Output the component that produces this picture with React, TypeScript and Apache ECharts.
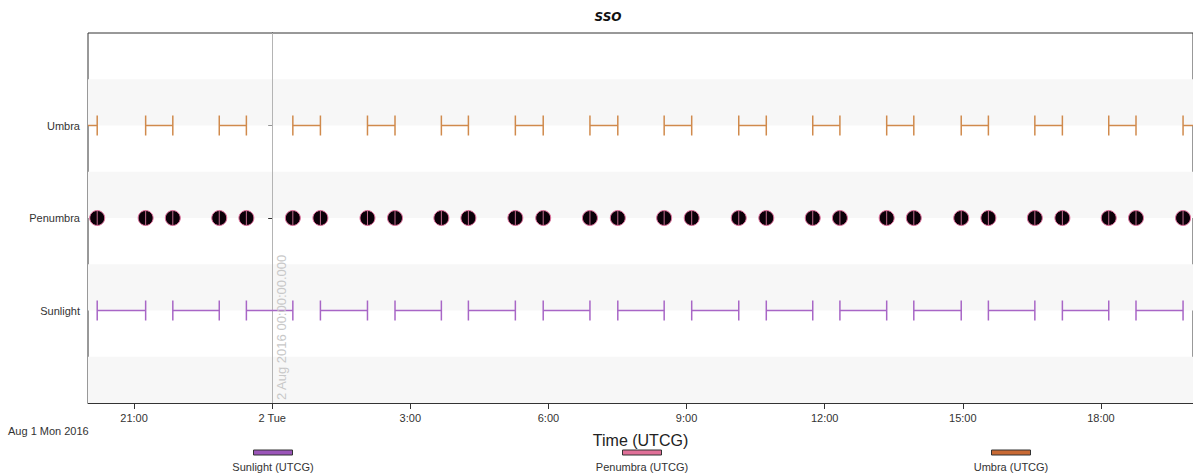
import React, { useEffect, useRef } from "react";
import * as echarts from "echarts";

// Times in hours relative to 2 Aug 2016 00:00 UTCG
const umbraStart = [-4.39, -2.748, -1.149, 0.449, 2.07, 3.675, 5.282, 6.902, 8.514, 10.134, 11.741, 13.347, 14.966, 16.565, 18.17, 19.784];
const umbraEnd = [-3.8, -2.158, -0.56, 1.048, 2.668, 4.262, 5.887, 7.507, 9.112, 10.732, 12.331, 13.936, 15.556, 17.163, 18.762, 20.38];
const sunStart = [-3.8, -2.158, -0.56, 1.048, 2.668, 4.262, 5.887, 7.507, 9.112, 10.732, 12.331, 13.936, 15.556, 17.163, 18.762];
const sunEnd = [-2.748, -1.149, 0.449, 2.07, 3.675, 5.282, 6.902, 8.514, 10.134, 11.741, 13.347, 14.966, 16.565, 18.17, 19.784];
const penumbraTimes = [-3.8, -2.748, -2.158, -1.149, -0.56, 0.449, 1.048, 2.07, 2.668, 3.675, 4.262, 5.282, 5.887, 6.902, 7.507, 8.514, 9.112, 10.134, 10.732, 11.741, 12.331, 13.347, 13.936, 14.966, 15.556, 16.565, 17.163, 18.17, 18.762, 19.784];

const rowNames = ["", "Sunlight", "Penumbra", "Umbra", ""];
const rowSun = 1, rowPen = 2, rowUmb = 3;
const xMajorTicks = [-3, 0, 3, 6, 9, 12, 15, 18];
const xMin = -4, xMax = 20;
const seriesNames = ["Sunlight (UTCG)", "Penumbra (UTCG)", "Umbra (UTCG)"];

const SUN = "#a866c6";
const PEN = "#e2729f";
const UMB = "#d08a4c";
const SUN_LEG = "#9a55b8";
const PEN_LEG = "#e07098";
const UMB_LEG = "#c86a34";
const FONT = "'Liberation Sans', Arial, sans-serif";

function fmtX(v: number) {
  if (v === 0) return "2 Tue";
  const h = v < 0 ? 24 + v : v;
  return h + ":00";
}

function intervalRender(color: string) {
  return (params: any, api: any) => {
    const s = api.value(0), e = api.value(1), y = api.value(2);
    const p1 = api.coord([s, y]);
    const p2 = api.coord([e, y]);
    const cs = params.coordSys;
    const left = cs.x, right = cs.x + cs.width;
    const x1 = Math.max(p1[0], left), x2 = Math.min(p2[0], right);
    const st = { stroke: color, lineWidth: 1.5 };
    const children: any[] = [];
    if (x2 > x1) children.push({ type: "line", shape: { x1, y1: p1[1], x2, y2: p1[1] }, style: st });
    if (p1[0] >= left) children.push({ type: "line", shape: { x1: p1[0], y1: p1[1] - 10, x2: p1[0], y2: p1[1] + 10 }, style: st });
    if (p2[0] <= right) children.push({ type: "line", shape: { x1: p2[0], y1: p2[1] - 10, x2: p2[0], y2: p2[1] + 10 }, style: st });
    return { type: "group", children };
  };
}

function penLineRender(params: any, api: any) {
  const p = api.coord([api.value(0), api.value(1)]);
  return {
    type: "line",
    shape: { x1: p[0], y1: p[1] - 7, x2: p[0], y2: p[1] + 7 },
    style: { stroke: "#c06a8c", lineWidth: 1 },
  };
}

export default function App() {
  const ref = useRef<HTMLDivElement>(null);
  useEffect(() => {
    if (!ref.current) return;
    const chart = echarts.init(ref.current, null, { renderer: "svg" });
    const legendCenters = [273, 642, 1011];
    const legendColors = [SUN_LEG, PEN_LEG, UMB_LEG];
    const legendGraphics: any[] = [];
    seriesNames.forEach((n, i) => {
      legendGraphics.push({
        type: "rect",
        shape: { x: legendCenters[i] - 19.5, y: 450, width: 39, height: 5 },
        style: { fill: legendColors[i], stroke: "#333", lineWidth: 1 },
      });
      legendGraphics.push({
        type: "text",
        x: legendCenters[i],
        y: 467,
        style: { text: n, fill: "#333", font: `11px ${FONT}`, textAlign: "center", textVerticalAlign: "middle" },
      });
    });

    chart.setOption({
      animation: false,
      backgroundColor: "#fff",
      textStyle: { fontFamily: FONT },
      grid: { left: 88, right: -6, top: 33, bottom: 72, show: true, borderColor: "#333", borderWidth: 1, backgroundColor: "#fff" },
      graphic: [
        {
          type: "text",
          x: 608,
          y: 17,
          style: { text: "SSO", fill: "#111", font: "italic bold 12px 'DejaVu Sans', Verdana, sans-serif", textAlign: "center", textVerticalAlign: "middle" },
        },
        {
          type: "text",
          x: 8,
          y: 431,
          style: { text: "Aug 1 Mon 2016", fill: "#333", font: `11px ${FONT}`, textAlign: "left", textVerticalAlign: "middle" },
        },
        ...legendGraphics,
      ],
      xAxis: [
        {
          type: "value",
          min: xMin,
          max: xMax,
          interval: 1,
          position: "bottom",
          axisLine: { show: true, lineStyle: { color: "#333", width: 1 } },
          axisTick: { show: true, inside: true, length: 4, lineStyle: { color: "#333" } },
          axisLabel: { customValues: xMajorTicks, formatter: (v: number) => fmtX(v), color: "#333", fontSize: 11, margin: 9, fontFamily: FONT },
          splitLine: { show: false },
          name: "Time (UTCG)",
          nameLocation: "middle",
          nameGap: 29,
          nameTextStyle: { fontSize: 16, color: "#222", fontFamily: FONT },
        },
        {
          type: "value",
          min: xMin,
          max: xMax,
          interval: 1,
          position: "bottom",
          axisLine: { show: false },
          axisTick: { show: true, customValues: xMajorTicks, inside: false, length: 6, lineStyle: { color: "#333" } },
          axisLabel: { show: false },
          splitLine: { show: false },
        },
      ],
      yAxis: {
        type: "value",
        min: 0,
        max: 4,
        interval: 1,
        axisLine: { show: true, lineStyle: { color: "#333", width: 1 } },
        axisTick: { show: true, customValues: [rowSun, rowPen, rowUmb], length: 4, lineStyle: { color: "#333" } },
        axisLabel: { customValues: [rowSun, rowPen, rowUmb], formatter: (v: number) => rowNames[v] || "", color: "#333", fontSize: 11, margin: 8, fontFamily: FONT },
        splitLine: { show: false },
      },
      series: [
        {
          type: "line",
          data: [],
          silent: true,
          markArea: {
            silent: true,
            itemStyle: { color: "#f7f7f7" },
            data: [0, 1, 2, 3].map((b) => [{ yAxis: b }, { yAxis: b + 0.5 }]),
          },
          markLine: {
            silent: true,
            symbol: "none",
            lineStyle: { color: "#b4b4b4", width: 1, type: "solid" },
            label: {
              show: true,
              position: "insideStartBottom",
              formatter: "2 Aug 2016 00:00:00.000",
              color: "#c8c8c8",
              fontSize: 13,
              fontFamily: FONT,
              distance: 3,
            },
            data: [{ xAxis: 0 }],
          },
        },
        {
          name: seriesNames[0],
          type: "custom",
          z: 5,
          renderItem: intervalRender(SUN),
          encode: { x: [0, 1], y: 2 },
          data: sunStart.map((s, i) => [s, sunEnd[i], rowSun]),
        },
        {
          name: seriesNames[2],
          type: "custom",
          z: 5,
          renderItem: intervalRender(UMB),
          encode: { x: [0, 1], y: 2 },
          data: umbraStart.map((s, i) => [s, umbraEnd[i], rowUmb]),
        },
        {
          name: seriesNames[1],
          type: "scatter",
          z: 6,
          symbol: "circle",
          symbolSize: 15,
          itemStyle: { color: "#0b0008", borderColor: PEN, borderWidth: 1, opacity: 1 },
          data: penumbraTimes.map((t) => [t, rowPen]),
        },
        {
          type: "custom",
          z: 7,
          silent: true,
          renderItem: penLineRender,
          encode: { x: 0, y: 1 },
          data: penumbraTimes.map((t) => [t, rowPen]),
        },
      ],
    });
    return () => chart.dispose();
  }, []);
  return <div ref={ref} style={{ position: "fixed", left: 0, top: 0, width: 1193, height: 475 }} />;
}
